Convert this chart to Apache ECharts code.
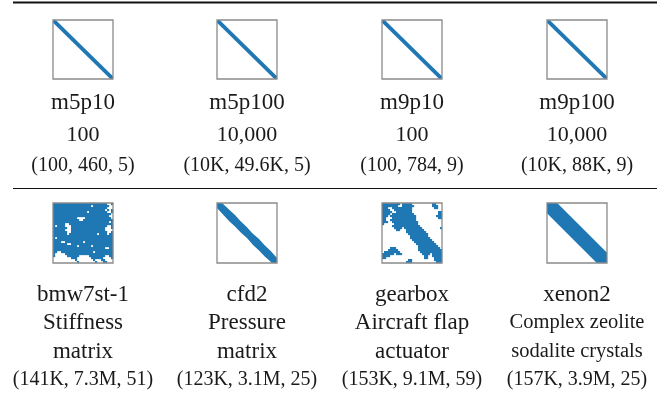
<!DOCTYPE html>
<html><head><meta charset="utf-8">
<script src="https://cdn.jsdelivr.net/npm/echarts@6/dist/echarts.min.js"></script>
<style>html,body{margin:0;padding:0;background:#fff}#c{width:670px;height:400px}</style>
</head><body><div id="c"></div>
<script>
// ---------- data ----------
const names = ['m5p10', 'm5p100', 'm9p10', 'm9p100', 'bmw7st-1', 'cfd2', 'gearbox', 'xenon2'];
const descriptions = [['100'], ['10,000'], ['100'], ['10,000'],
  ['Stiffness', 'matrix'], ['Pressure', 'matrix'], ['Aircraft flap', 'actuator'],
  ['Complex zeolite', 'sodalite crystals']];
const stats = ['(100, 460, 5)', '(10K, 49.6K, 5)', '(100, 784, 9)', '(10K, 88K, 9)',
  '(141K, 7.3M, 51)', '(123K, 3.1M, 25)', '(153K, 9.1M, 59)', '(157K, 3.9M, 25)'];
const dims = [100, 10000, 100, 10000, 141000, 123000, 153000, 157000];
// band half-width as fraction of matrix size, sampled along the diagonal (null = use mask)
const bandProfiles = [
  [0.045, 0.045], [0.045, 0.045], [0.045, 0.045], [0.045, 0.045],
  null,
  [0.085, 0.09, 0.1, 0.09, 0.095, 0.085, 0.1, 0.09, 0.095, 0.085, 0.09],
  null,
  [0.17, 0.17]
];
const bmwMask = [
  'xxxxxxxxxxxxxxxxxxxxxxxxxxx..x',
  'xxxxxxxxxxxxxxxxxxx.xxxxxxxx..',
  'xxxxxxxxxxxxxxxxxxxxxxxxxxx...',
  'xxxxxxxxxxxxxxxxxxxxxxxxxx.x.x',
  'xxxxxxxxxxxxxxxxx.xxxxxxxxx..x',
  'xxxxxxxxxxxxxxxxxxxxxxxxxxxxx.',
  'xxxxxxxxxxxxxxxxxxxxxxxxxxxx..',
  'xxxxxxxxxxxx....xxxxxxxxxxxxx.',
  'xxxxxxxxxxxxx..xxxxxxxxxxxxxxx',
  'xxxxxxxxxxxxxxxxxxxxxxxxxxxx.x',
  'xxxxxx..xxxxxxxxxxxxxxxxxxxxxx',
  'x.xxxx...xxxxxxxxxxxxxxxxxx..x',
  'xxxxxxx..xxxxxxxxxxxxxxxxx...x',
  'xxxxxx...xxxxxxxxxxxxxxxxx....',
  'xxxxxxx..xxxxxxxxxxxxxxxxxx..x',
  'xxxxxxx.xxxxxxxxxxxxxx.xxxx.xx',
  'xxxxxxxxxxxxxxxxxxxxxxxxxxxxxx',
  'x.xxxxxxxxxxxxxxxxxxxxxxxxxxxx',
  'xxxxxxxxxxxxxxxxxxxxxxxxxxxxxx',
  'xxxx..xxxxxxxxx.xxxxxxxxxxxxxx',
  'xxxxxxx..xxxxxxxxxxxxxxxxxxxxx',
  'xxxxxxxxxxxx.xxxxxx.xxxxxxxxxx',
  'xxxxxxxxxxxxxxxxxxxxxxxxxx..xx',
  'xxxxxxxxxxxxxxxxxxxxxxxxxxxxxx',
  'xx..xxxxxxxxxxxxxxxx.xxxxxxxxx',
  'x.....xxxxxxxxxxxxxxxxxxxxxxxx',
  'x......xxxxxx.....xxxxxxxx..xx',
  '.........xxx.......xxxxxx....x',
  '...........x........x...xx....',
  '............x........x...xx...'
];
const gearboxMask = [
  'xxxxxxxxx.xxxxx..........xx...',
  'xxxxxxxx..xxxxxx.........xxx..',
  'xxx..xxxxxxxxxx...........xx..',
  'xxxx..xxxxxxxxx...............',
  'xxxxx..xxxxxxxx.............xx',
  'xxxx.xxxxxxxxxxx............xx',
  'xxx.xxxxxxxxxxxxx..........xxx',
  'xx...xxxxxxxxxxxx...........xx',
  'xx..xxxxxxxxxxxxx.............',
  'xxx..xxxxxxxxxxxxx............',
  'x.....xxxxxxxxxxxx............',
  '.....xxxxxxxxxxxxxx...........',
  '......xxxx.xxxxxxxxx.........x',
  '.......xx...xxxxxxxxx.........',
  '............xxxxxxxxxx........',
  '.............xxxxxxxxxx.......',
  '..............xxxxxxxxx.......',
  '..............xxxxxxxxxx......',
  '...............xxxxxxxxxx.....',
  '................xxxxxxxxxx....',
  '.................xxxxxxxxxx...',
  '..................xxxxxxxxxx..',
  '....xxx...........xxxxxxxxxxx.',
  '...xxxxx..........xxxxxxxxxxxx',
  '.xxxxxxxx..........xxxxxxxxxxx',
  'xxxxxx.xxx..........xxxx.xxxxx',
  'xxxx.................xx..xxxxx',
  'xx...................xx...xxxx',
  '.............xx...........xxxx',
  '............xxx............xxx'
];
const masks = [null, null, null, null, bmwMask, null, gearboxMask, null];

// ---------- layout / style ----------
const BLUE = '#1f77b4';
const colLeft = [53, 217, 382, 547];
const rowTop = [20, 203];
const boxW = 60;
const colCenter = colLeft.map(l => l + boxW / 2);
const lineY = [[103, 135, 166], [295, 323, 352, 380]];
const FONT = '"Liberation Serif", "Times New Roman", serif';

// clip a polygon (data space) to the square [0,n]x[0,n]
function clipToSquare(poly, n) {
  const edges = [
    [p => p[0] >= 0, (a, b) => { const t = (0 - a[0]) / (b[0] - a[0]); return [0, a[1] + t * (b[1] - a[1])]; }],
    [p => p[0] <= n, (a, b) => { const t = (n - a[0]) / (b[0] - a[0]); return [n, a[1] + t * (b[1] - a[1])]; }],
    [p => p[1] >= 0, (a, b) => { const t = (0 - a[1]) / (b[1] - a[1]); return [a[0] + t * (b[0] - a[0]), 0]; }],
    [p => p[1] <= n, (a, b) => { const t = (n - a[1]) / (b[1] - a[1]); return [a[0] + t * (b[0] - a[0]), n]; }]
  ];
  let out = poly;
  edges.forEach(([inside, inter]) => {
    const inp = out; out = [];
    for (let i = 0; i < inp.length; i++) {
      const cur = inp[i], prev = inp[(i + inp.length - 1) % inp.length];
      if (inside(cur)) {
        if (!inside(prev)) out.push(inter(prev, cur));
        out.push(cur);
      } else if (inside(prev)) out.push(inter(prev, cur));
    }
  });
  return out;
}

const grids = [], xAxes = [], yAxes = [], series = [], graphics = [];

for (let i = 0; i < 8; i++) {
  const c = i % 4, r = Math.floor(i / 4);
  const n = dims[i];
  grids.push({left: colLeft[c], top: rowTop[r], width: boxW, height: r === 0 ? 59 : 60,
    show: false, containLabel: false});
  xAxes.push({type: 'value', gridIndex: i, min: 0, max: n, show: false});
  yAxes.push({type: 'value', gridIndex: i, min: 0, max: n, inverse: true, show: false});

  if (masks[i]) {
    const m = masks[i];
    const cells = [];
    const k = m.length;
    const cell = n / k;
    m.forEach((row, ri) => {
      for (let ci = 0; ci < row.length; ci++) if (row[ci] === 'x') cells.push([ci * cell, ri * cell]);
    });
    series.push({
      type: 'custom', xAxisIndex: i, yAxisIndex: i, silent: true, z: 3,
      data: cells,
      renderItem: (params, api) => {
        const p0 = api.coord([api.value(0), api.value(1)]);
        const p1 = api.coord([api.value(0) + cell, api.value(1) + cell]);
        return {type: 'rect', shape: {x: p0[0], y: p0[1], width: p1[0] - p0[0] + 0.15, height: p1[1] - p0[1] + 0.15},
          style: {fill: BLUE}};
      }
    });
  } else {
    const prof = bandProfiles[i];
    series.push({
      type: 'custom', xAxisIndex: i, yAxisIndex: i, silent: true, z: 3,
      data: [[0, n]],
      renderItem: (params, api) => {
        const K = prof.length - 1;
        const ext = Math.max.apply(null, prof) * n;
        const upper = [], lower = [];
        upper.push([-ext + prof[0] * n, -ext]);
        lower.push([-ext, -ext + prof[0] * n]);
        for (let k = 0; k <= K; k++) {
          const t = n * k / K;
          const w = prof[k] * n;
          upper.push([t + w, t]);
          lower.push([t, t + w]);
        }
        upper.push([n + ext + prof[K] * n, n + ext]);
        lower.push([n + ext, n + ext + prof[K] * n]);
        const poly = clipToSquare(upper.concat(lower.reverse()), n);
        const pts = poly.map(p => api.coord(p));
        return {type: 'polygon', shape: {points: pts}, style: {fill: BLUE}};
      }
    });
  }
  // frame
  series.push({
    type: 'custom', xAxisIndex: i, yAxisIndex: i, silent: true, z: 5,
    data: [[0, n]],
    renderItem: (params, api) => {
      const p0 = api.coord([0, 0]);
      const p1 = api.coord([n, n]);
      return {type: 'rect', shape: {x: p0[0], y: p0[1], width: p1[0] - p0[0], height: p1[1] - p0[1]},
        style: {fill: null, stroke: '#8a8a8a', lineWidth: 1.3}};
    }
  });

  // texts
  const lines = [{t: names[i], s: 23}];
  descriptions[i].forEach(d => lines.push({t: d, s: (i < 4) ? 22 : (i === 7 ? 20.5 : 23)}));
  lines.push({t: stats[i], s: 20});
  lines.forEach((ln, li) => {
    graphics.push({type: 'text', x: colCenter[c], y: lineY[r][li],
      style: {text: ln.t, font: ln.s + 'px ' + FONT, fill: '#1a1a1a', textAlign: 'center', textVerticalAlign: 'middle'}});
  });
}

graphics.push({type: 'line', shape: {x1: 13, y1: 2.5, x2: 657, y2: 2.5}, style: {stroke: '#111', lineWidth: 2}});
graphics.push({type: 'line', shape: {x1: 13, y1: 188.5, x2: 657, y2: 188.5}, style: {stroke: '#111', lineWidth: 1.2}});

const chart = echarts.init(document.getElementById('c'), null, {renderer: 'canvas'});
chart.setOption({
  animation: false,
  backgroundColor: '#fff',
  grid: grids, xAxis: xAxes, yAxis: yAxes, series: series, graphic: graphics
});
</script></body></html>
